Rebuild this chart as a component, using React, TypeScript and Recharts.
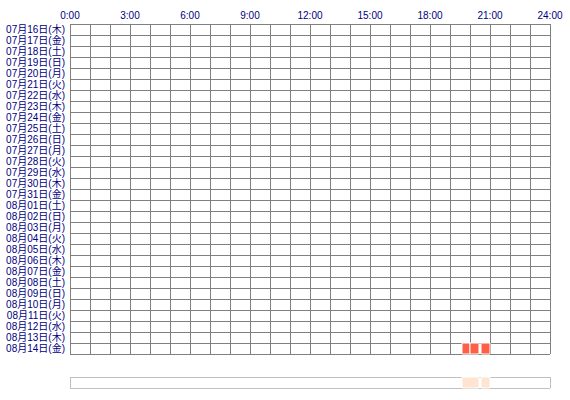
import React from "react";
import { ComposedChart, Bar, XAxis, YAxis, CartesianGrid } from "recharts";

// ── Data ────────────────────────────────────────────────────────────

const DAYS = [
  "07月16日(木)", "07月17日(金)", "07月18日(土)", "07月19日(日)", "07月20日(月)",
  "07月21日(火)", "07月22日(水)", "07月23日(木)", "07月24日(金)", "07月25日(土)",
  "07月26日(日)", "07月27日(月)", "07月28日(火)", "07月29日(水)", "07月30日(木)",
  "07月31日(金)", "08月01日(土)", "08月02日(日)", "08月03日(月)", "08月04日(火)",
  "08月05日(水)", "08月06日(木)", "08月07日(金)", "08月08日(土)", "08月09日(日)",
  "08月10日(月)", "08月11日(火)", "08月12日(水)", "08月13日(木)", "08月14日(金)",
];

const HOUR_TICKS = [0, 3, 6, 9, 12, 15, 18, 21, 24];

// active time per day, split at hour cells: [day, start, end] in hours
const CELL_SEGMENTS: [string, number, number][] = [
  ["08月14日(金)", 19.6, 20.0],
  ["08月14日(金)", 20.0, 20.45],
  ["08月14日(金)", 20.55, 21.0],
];

// summary strip sessions: [start, end] in hours
const SESSIONS: [number, number][] = [
  [19.6, 20.45],
  [20.55, 21.0],
];

// ── Styling ─────────────────────────────────────────────────────────

const ACTIVE = "#ff5f44";
const ACTIVE_LIGHT = "#ffe4d2";
const GRID = "#808080";
const LABEL = "#000080";
const FONT = "'Liberation Sans', 'Noto Sans CJK JP', sans-serif";

const tick = { fill: LABEL, fontSize: 10, fontFamily: FONT };

const fmtHour = (v: number) => `${v}:00`;

// half-pixel shift keeps 1px grid lines crisp
const rows = (n: number) => ({ offset }: any) =>
  Array.from({ length: n + 1 }, (_, i) => Math.round(offset.top + (i * offset.height) / n) + 0.5);
const cols = (n: number) => ({ offset }: any) =>
  Array.from({ length: n + 1 }, (_, i) => Math.round(offset.left + (i * offset.width) / n) + 0.5);

const mainData = DAYS.map((day) => {
  const row: Record<string, string | number[] | null> = { day };
  CELL_SEGMENTS.forEach(([d, s, e], i) => {
    row[`s${i}`] = d === day ? [s, e] : null;
  });
  return row;
});

const stripRow: Record<string, string | number[]> = { day: "all" };
SESSIONS.forEach(([s, e], i) => {
  stripRow[`s${i}`] = [s, e];
});
const stripData = [stripRow];

export default function App() {
  return (
    <div style={{ position: "absolute", left: 0, top: 0, width: 570, height: 400, background: "#fff" }}>
      <ComposedChart
        width={570}
        height={370}
        layout="vertical"
        data={mainData}
        barCategoryGap={0}
        barGap="-100%"
        margin={{ top: 0, right: 20, bottom: 0, left: 0 }}
      >
        <CartesianGrid
          stroke={GRID}
          strokeOpacity={1}
          horizontalCoordinatesGenerator={rows(DAYS.length)}
          verticalCoordinatesGenerator={cols(24)}
        />
        <XAxis
          xAxisId="top"
          orientation="top"
          type="number"
          domain={[0, 24]}
          ticks={HOUR_TICKS}
          tickFormatter={fmtHour}
          height={24}
          tick={tick}
          tickSize={0}
          tickMargin={5}
          axisLine={false}
          interval={0}
        />
        <XAxis
          xAxisId="bottom"
          orientation="bottom"
          type="number"
          domain={[0, 24]}
          ticks={HOUR_TICKS}
          tickFormatter={fmtHour}
          height={16}
          tick={tick}
          tickSize={0}
          tickMargin={4}
          axisLine={false}
          interval={0}
        />
        <YAxis
          type="category"
          dataKey="day"
          width={70}
          tick={tick}
          tickSize={0}
          tickMargin={5}
          axisLine={false}
          interval={0}
        />
        {CELL_SEGMENTS.map((_, i) => (
          <Bar
            key={i}
            xAxisId="top"
            dataKey={`s${i}`}
            fill={ACTIVE}
            stroke="#fff"
            strokeWidth={1}
            isAnimationActive={false}
          />
        ))}
      </ComposedChart>
      <ComposedChart
        width={570}
        height={30}
        layout="vertical"
        data={stripData}
        barCategoryGap={0}
        barGap="-100%"
        margin={{ top: 7, right: 20, bottom: 12, left: 70 }}
      >
        <CartesianGrid
          stroke="#c0c0c0"
          strokeOpacity={1}
          horizontalCoordinatesGenerator={rows(1)}
          verticalCoordinatesGenerator={cols(1)}
        />
        <XAxis type="number" domain={[0, 24]} hide />
        <YAxis type="category" dataKey="day" hide />
        {SESSIONS.map((_, i) => (
          <Bar
            key={i}
            dataKey={`s${i}`}
            fill={ACTIVE_LIGHT}
            stroke="#fff"
            strokeWidth={1}
            isAnimationActive={false}
          />
        ))}
      </ComposedChart>
    </div>
  );
}
